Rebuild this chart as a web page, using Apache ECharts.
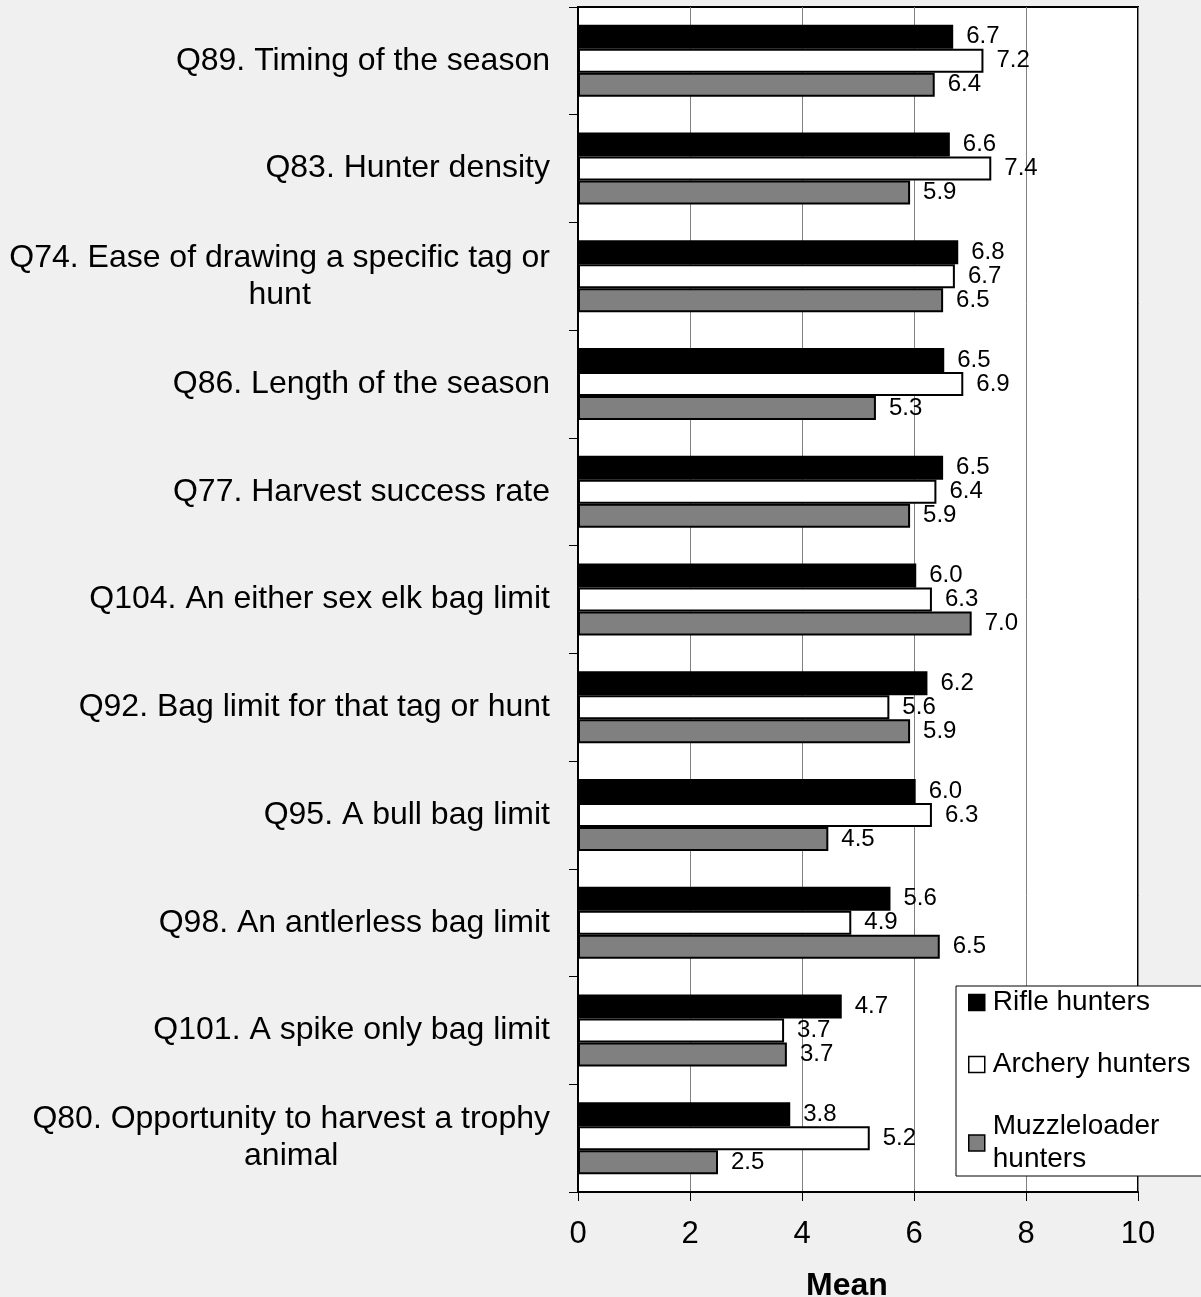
<!DOCTYPE html>
<html>
<head>
<meta charset="utf-8">
<script src="https://cdn.jsdelivr.net/npm/echarts@6/dist/echarts.min.js"></script>
<style>
html,body{margin:0;padding:0;background:#f0f0f0;}
#chart{width:1201px;height:1297px;}
</style>
</head>
<body>
<div id="chart"></div>
<script>
const categories = [
  'Q89. Timing of the season',
  'Q83. Hunter density',
  'Q74. Ease of drawing a specific tag or\nhunt',
  'Q86. Length of the season',
  'Q77. Harvest success rate',
  'Q104. An either sex elk bag limit',
  'Q92. Bag limit for that tag or hunt',
  'Q95. A bull bag limit',
  'Q98. An antlerless bag limit',
  'Q101. A spike only bag limit',
  'Q80. Opportunity to harvest a trophy\nanimal'
];
const seriesNames = ['Rifle hunters', 'Archery hunters', 'Muzzleloader hunters'];
const legendLabels = ['Rifle hunters', 'Archery hunters', 'Muzzleloader\nhunters'];
const rifle   = [6.70, 6.64, 6.79, 6.54, 6.52, 6.04, 6.24, 6.03, 5.58, 4.71, 3.79];
const archery = [7.24, 7.38, 6.73, 6.88, 6.40, 6.32, 5.56, 6.32, 4.88, 3.68, 5.21];
const muzzle  = [6.37, 5.93, 6.52, 5.32, 5.93, 7.03, 5.93, 4.47, 6.46, 3.73, 2.50];
const xTicks = [0, 2, 4, 6, 8, 10];
const axisTitle = 'Mean';

const FONT = 'Liberation Sans, Arial, sans-serif';
const fills = ['#000000', '#ffffff', '#808080'];

const chart = echarts.init(document.getElementById('chart'), null, {renderer: 'canvas'});

function mkSeries(name, data, fill) {
  return {
    name: name,
    type: 'bar',
    data: data,
    barWidth: 24,
    barGap: '0%',
    itemStyle: {color: fill, borderColor: '#000', borderWidth: 2},
    label: {
      show: true,
      position: 'right',
      distance: 13,
      fontFamily: FONT,
      fontSize: 24,
      color: '#000',
      formatter: p => p.value.toFixed(1)
    },
    emphasis: {disabled: true},
    animation: false
  };
}

chart.setOption({
  backgroundColor: '#f0f0f0',
  animation: false,
  textStyle: {fontFamily: FONT},
  grid: {
    left: 578, right: 63, top: 7, bottom: 105,
    containLabel: false,
    outerBoundsMode: 'none',
    show: true,
    backgroundColor: '#ffffff',
    borderColor: '#000',
    borderWidth: 2
  },
  legend: {
    orient: 'vertical',
    left: 956,
    top: 986,
    backgroundColor: '#ffffff',
    borderColor: '#000',
    borderWidth: 1,
    borderRadius: 0,
    padding: [0, 30, 0, 12],
    itemWidth: 16,
    itemHeight: 16,
    itemGap: 29,
    icon: 'rect',
    selectedMode: false,
    data: seriesNames.map((n, i) => ({
      name: n,
      itemStyle: {color: fills[i], borderColor: '#000', borderWidth: 1.5}
    })),
    formatter: name => legendLabels[seriesNames.indexOf(name)],
    textStyle: {fontFamily: FONT, fontSize: 28, lineHeight: 33, color: '#000', padding: [0, 0, 0, 3]}
  },
  xAxis: {
    type: 'value',
    min: xTicks[0],
    max: xTicks[xTicks.length - 1],
    interval: xTicks[1] - xTicks[0],
    name: axisTitle,
    nameLocation: 'middle',
    nameGap: 78,
    nameTextStyle: {fontFamily: FONT, fontSize: 32, fontWeight: 'bold', color: '#000', padding: [0, 22, 0, 0]},
    axisLine: {show: true, lineStyle: {color: '#000', width: 2}},
    axisTick: {show: true, inside: false, length: 9, lineStyle: {color: '#000', width: 1}},
    axisLabel: {fontFamily: FONT, fontSize: 31, color: '#000', margin: 27},
    splitLine: {show: true, lineStyle: {color: '#808080', width: 1}}
  },
  yAxis: {
    type: 'category',
    data: categories,
    inverse: true,
    axisLine: {show: true, lineStyle: {color: '#000', width: 2}},
    axisTick: {show: true, inside: false, length: 9, lineStyle: {color: '#000', width: 1}},
    axisLabel: {
      margin: 28,
      align: 'right',
      formatter: v => v.split('\n').map(s => '{c|' + s + '}').join('\n'),
      rich: {
        c: {fontFamily: FONT, fontSize: 32, lineHeight: 37, color: '#000', align: 'center'}
      }
    },
    splitLine: {show: false}
  },
  series: [
    mkSeries(seriesNames[0], rifle, fills[0]),
    mkSeries(seriesNames[1], archery, fills[1]),
    mkSeries(seriesNames[2], muzzle, fills[2])
  ]
});
</script>
</body>
</html>
